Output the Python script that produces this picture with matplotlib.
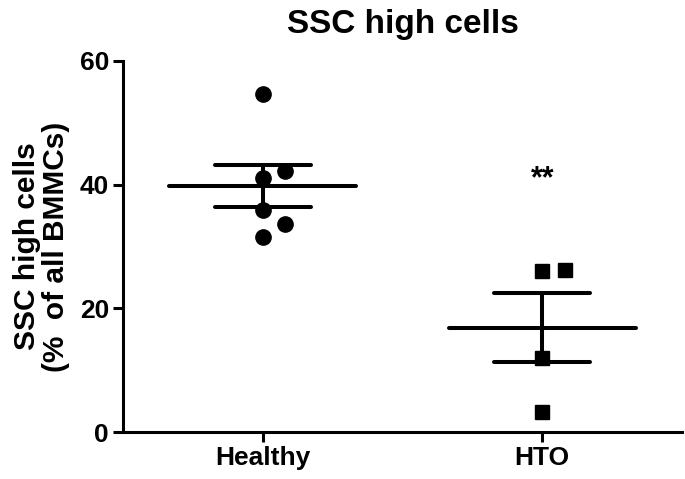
import numpy as np
import matplotlib
matplotlib.use("Agg")
import matplotlib.pyplot as plt

plt.rcParams['font.family'] = ['Liberation Sans', 'DejaVu Sans']

categories = ["Healthy", "HTO"]
healthy_values = [54.7, 42.2, 41.1, 35.9, 33.6, 31.5]
hto_values = [26.0, 26.2, 12.0, 3.3]
# horizontal scatter offsets (in category units) used by the original dot plot
healthy_offsets = [0.0, 0.08, 0.0, 0.0, 0.08, 0.0]
hto_offsets = [0.0, 0.08, 0.0, 0.0]
y_ticks = [0, 20, 40, 60]
title = "SSC high cells"
ylabel = "SSC high cells\n(%  of all BMMCs)"
significance = "**"

fig = plt.figure(figsize=(6.85, 4.79), dpi=100)
ax = fig.add_axes([123/685, 1 - 432/479, 559/685, 371/479])

groups = [healthy_values, hto_values]
offsets = [healthy_offsets, hto_offsets]
markers = ["o", "s"]
msizes = [11, 10.5]
lw = 2.9
for i, (vals, offs) in enumerate(zip(groups, offsets)):
    vals = np.array(vals)
    mean = vals.mean()
    sem = vals.std(ddof=1) / np.sqrt(len(vals))
    ax.hlines(mean, i - 0.335, i + 0.335, color="black", lw=lw, capstyle="round", zorder=2)
    ax.hlines([mean - sem, mean + sem], i - 0.172, i + 0.172, color="black", lw=lw,
              capstyle="round", zorder=2)
    ax.vlines(i, mean - sem, mean + sem, color="black", lw=lw, zorder=2)
    ax.plot(i + np.array(offs), vals, linestyle="none", marker=markers[i],
            markersize=msizes[i], color="black", zorder=3)

ax.text(1, 40.8, significance, ha="center", va="center", fontsize=22, fontweight="bold")

ax.set_xlim(-0.5, 1.5)
ax.set_ylim(0, 60)
ax.set_xticks(range(len(categories)))
ax.set_xticklabels(categories)
ax.set_yticks(y_ticks)
for spine in ["top", "right"]:
    ax.spines[spine].set_visible(False)
for spine in ["left", "bottom"]:
    ax.spines[spine].set_linewidth(2.2)
ax.tick_params(axis="both", length=7, width=2.2, labelsize=19, pad=3)
for lab in ax.get_xticklabels() + ax.get_yticklabels():
    lab.set_fontweight("bold")
ax.set_ylabel(ylabel, fontsize=21.5, fontweight="bold", linespacing=1.05, labelpad=7)
ax.set_title(title, fontsize=24, fontweight="bold", pad=20)

fig.savefig("out.png", dpi=100)
